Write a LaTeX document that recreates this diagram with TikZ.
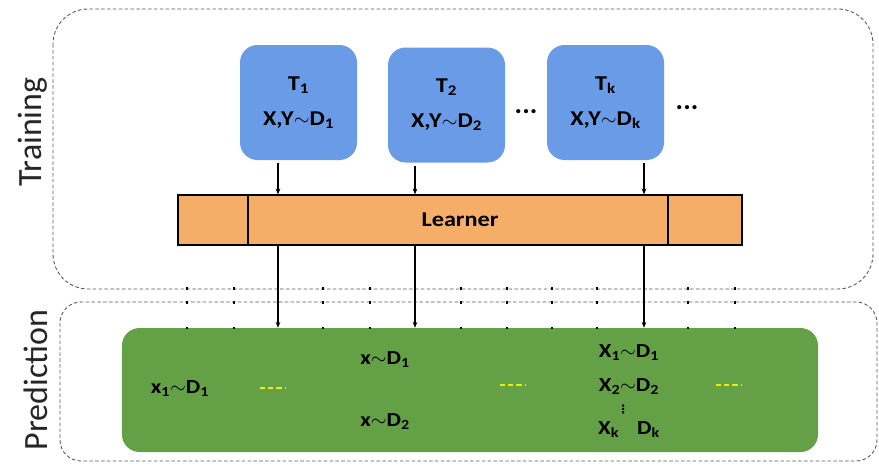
\documentclass[tikz,border=0pt]{standalone}
\usepackage{fontspec}
\setmainfont{Carlito}
\newfontfamily\widefont[FakeStretch=1.15]{Carlito}
\newfontfamily\symbfont{DejaVu Sans}
\usetikzlibrary{arrows.meta}
\definecolor{taskblue}{HTML}{6A9BE6}
\definecolor{learnorange}{HTML}{F4AE68}
\definecolor{predgreen}{HTML}{64A046}
\definecolor{dashyellow}{HTML}{E8F000}
\newcommand\lowidx[1]{\textsubscript{#1}}
\begin{document}
\begin{tikzpicture}[x=0.03cm,y=-0.03cm,
  region/.style={draw=black!65, line width=0.75pt, dash pattern=on 3pt off 2pt},
  sidelabel/.style={rotate=90, text=black!85, font=\fontsize{29}{32}\selectfont},
  task/.style={fill=taskblue, rounded corners=15pt, minimum width=3.51cm, minimum height=3.45cm,
    align=center, inner sep=0pt, font=\widefont\bfseries\fontsize{18}{30}\selectfont},
  learnerbox/.style={fill=learnorange, draw=black, line width=1.1pt, minimum width=16.92cm,
    minimum height=1.5cm, inner sep=0pt, font=\widefont\bfseries\fontsize{18}{20}\selectfont},
  predbox/.style={fill=predgreen, rounded corners=15pt, minimum width=20.88cm, minimum height=3.72cm, inner sep=0pt},
  predtext/.style={font=\widefont\bfseries\fontsize{17}{19}\selectfont, inner sep=0pt},
  ellip/.style={font=\bfseries\fontsize{24}{26}\selectfont, inner sep=0pt},
  ydash/.style={draw=dashyellow, line width=1.3pt, dash pattern=on 4.5pt off 2.5pt},
  arr/.style={draw=black, line width=1.2pt, -{Stealth[length=5pt,width=4pt]}},
  tick/.style={draw=black, line width=1.2pt}
]
\useasboundingbox (0,0) rectangle (879,470);
\fill[white] (0,0) rectangle (879,470);

% regions
\draw[region, rounded corners=30pt] (53,9) rectangle (873,289);
\draw[region, rounded corners=18pt] (60,302) rectangle (877,461);

\node[sidelabel] (trainlbl) at (33,132) {Training};
\node[sidelabel] (predlbl) at (36,380) {Prediction};

% tasks
\node[task] (T1) at (298.5,102.5) {T\lowidx{1}\\X,Y$\sim$D\lowidx{1}};
\node[task] (T2) at (446.5,105) {T\lowidx{2}\\X,Y$\sim$D\lowidx{2}};
\node[task] (Tk) at (605.5,102.5) {T\lowidx{k}\\X,Y$\sim$D\lowidx{k}};
\node[ellip] (dots1) at (526,112) {...};
\node[ellip] (dots2) at (687,108) {...};

% learner
\node[learnerbox] (L) at (460,220) {Learner};
\coordinate (d1) at (248,0);
\coordinate (d2) at (668,0);
\draw[black, line width=1.1pt] (L.north -| d1) -- (L.south -| d1);
\draw[black, line width=1.1pt] (L.north -| d2) -- (L.south -| d2);

% prediction
\node[predbox] (G) at (470,390) {};

% ticks
\foreach \tx in {187,234,323,370,461,507,552,597,688,735}{
  \draw[tick] (\tx,287) -- (\tx,290);
  \draw[tick] (\tx,301) -- (\tx,304);
  \draw[tick] (\tx,327) -- (\tx,329);
}

% arrows
\coordinate (a1) at (278,0);
\coordinate (a2) at (415,0);
\coordinate (a3) at (644,0);
\foreach \a/\t in {a1/T1,a2/T2,a3/Tk}{
  \draw[arr] (\a |- \t.south) ++(0,3) -- (\a |- L.north);
  \draw[arr] (\a |- L.south) -- (\a |- G.north);
}

% prediction texts
\node[predtext] (p1) at (180,389) {x\lowidx{1}$\sim$D\lowidx{1}};
\draw[ydash] (260,388) -- (285,388);
\node[predtext] (p2) at (385,360) {x$\sim$D\lowidx{1}};
\node[predtext] (p3) at (385,422) {x$\sim$D\lowidx{2}};
\draw[ydash] (500,385) -- (525,385);
\node[predtext, align=center] (pstack) at (629,391)
  {X\lowidx{1}$\sim$D\lowidx{1}\\[10pt]X\lowidx{2}$\sim$D\lowidx{2}\\
   {\symbfont\fontsize{10}{10}\selectfont\makebox[0pt][c]{\kern-10pt ⋮}}\\[-1pt]
   X\lowidx{k}\hspace{0.9em}D\lowidx{k}};
\draw[ydash] (716,385) -- (741,385);
\end{tikzpicture}
\end{document}
